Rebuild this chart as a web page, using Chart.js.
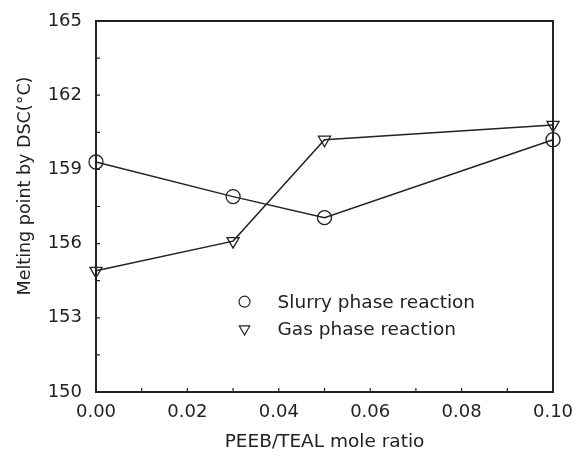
<!DOCTYPE html>
<html>
<head>
<meta charset="utf-8">
<script src="https://cdn.jsdelivr.net/npm/chart.js@4/dist/chart.umd.min.js"></script>
<style>
html,body{margin:0;padding:0;background:#fff;}
#wrap{width:575px;height:453px;position:relative;}
</style>
</head>
<body>
<div id="wrap"><canvas id="c" width="575" height="453"></canvas></div>
<script>
const xValues = [0.00, 0.03, 0.05, 0.10];
const slurry = [159.3, 157.9, 157.05, 160.2];
const gas = [154.9, 156.1, 160.2, 160.8];
const seriesNames = ["Slurry phase reaction", "Gas phase reaction"];
const xTitle = "PEEB/TEAL mole ratio";
const yTitle = "Melting point by DSC(°C)";
const INK = '#222';
const FONT = "'DejaVu Sans', 'Liberation Sans', sans-serif";

const frame = {
  id: 'frame',
  afterDraw(chart) {
    const {ctx, chartArea: a, scales} = chart;
    ctx.save();
    ctx.strokeStyle = INK;
    ctx.lineWidth = 2;
    ctx.strokeRect(a.left, a.top, a.right - a.left, a.bottom - a.top);
    // inward minor ticks
    ctx.lineWidth = 1.2;
    ctx.beginPath();
    for (let v = 150; v <= 165.001; v += 1.5) {
      const y = scales.y.getPixelForValue(v);
      ctx.moveTo(a.left, y); ctx.lineTo(a.left + 4, y);
    }
    for (let v = 0; v <= 0.1001; v += 0.01) {
      const x = scales.x.getPixelForValue(v);
      ctx.moveTo(x, a.bottom); ctx.lineTo(x, a.bottom - 4);
    }
    ctx.stroke();
    // y title
    ctx.fillStyle = INK;
    ctx.font = "17.5px " + FONT;
    ctx.textAlign = 'center';
    ctx.textBaseline = 'middle';
    ctx.translate(25, 186);
    ctx.rotate(-Math.PI / 2);
    ctx.fillText(yTitle, 0, 0);
    ctx.restore();
    // legend
    ctx.save();
    const lx = scales.x.getPixelForValue(0.0325);
    const rows = [scales.y.getPixelForValue(153.65), scales.y.getPixelForValue(152.55)];
    const styles = [
      {pointStyle: 'circle', rotation: 0, radius: 5.5, borderWidth: 1.2},
      {pointStyle: 'triangle', rotation: 180, radius: 6, borderWidth: 1.2}
    ];
    ctx.strokeStyle = INK; ctx.fillStyle = 'rgba(255,255,255,0)'; ctx.lineWidth = 1.2;
    styles.forEach((s, i) => {
      Chart.helpers.drawPoint(ctx, s, lx, rows[i]);
    });
    ctx.fillStyle = INK;
    ctx.font = "18.5px " + FONT;
    ctx.textAlign = 'left'; ctx.textBaseline = 'middle';
    seriesNames.forEach((n, i) => ctx.fillText(n, lx + 33, rows[i] + 1));
    ctx.restore();
  }
};

new Chart(document.getElementById('c'), {
  type: 'line',
  data: {
    datasets: [
      {
        label: seriesNames[0],
        data: xValues.map((x, i) => ({x, y: slurry[i]})),
        borderColor: INK, borderWidth: 1.5,
        pointStyle: 'circle', pointRadius: 7, pointBorderWidth: 1.3,
        pointBackgroundColor: 'rgba(255,255,255,0)', pointBorderColor: INK,
        tension: 0, clip: false
      },
      {
        label: seriesNames[1],
        data: xValues.map((x, i) => ({x, y: gas[i]})),
        borderColor: INK, borderWidth: 1.5,
        pointStyle: 'triangle', pointRotation: 180, pointRadius: 7, pointBorderWidth: 1.3,
        pointBackgroundColor: 'rgba(255,255,255,0)', pointBorderColor: INK,
        tension: 0, clip: false
      }
    ]
  },
  options: {
    responsive: false,
    animation: false,
    layout: {padding: {top: 21, right: 22, left: 0, bottom: 0}},
    plugins: {legend: {display: false}, tooltip: {enabled: false}},
    scales: {
      x: {
        type: 'linear', min: 0, max: 0.1,
        ticks: {stepSize: 0.02, color: INK, font: {family: FONT, size: 18}, padding: 10,
          callback: v => v.toFixed(2)},
        grid: {display: false, drawTicks: false},
        border: {display: false},
        title: {display: true, text: xTitle, color: INK, font: {family: FONT, size: 18.5}, padding: {top: 0, bottom: 0}},
        afterFit(s) { s.height = 61; s.paddingLeft = 0; s.paddingRight = 0; }
      },
      y: {
        min: 150, max: 165,
        ticks: {stepSize: 3, color: INK, font: {family: FONT, size: 18}, padding: 14},
        grid: {display: false, drawTicks: false},
        border: {display: false},
        afterFit(s) { s.width = 96; s.paddingTop = 0; s.paddingBottom = 0; }
      }
    }
  },
  plugins: [frame]
});
</script>
</body>
</html>
